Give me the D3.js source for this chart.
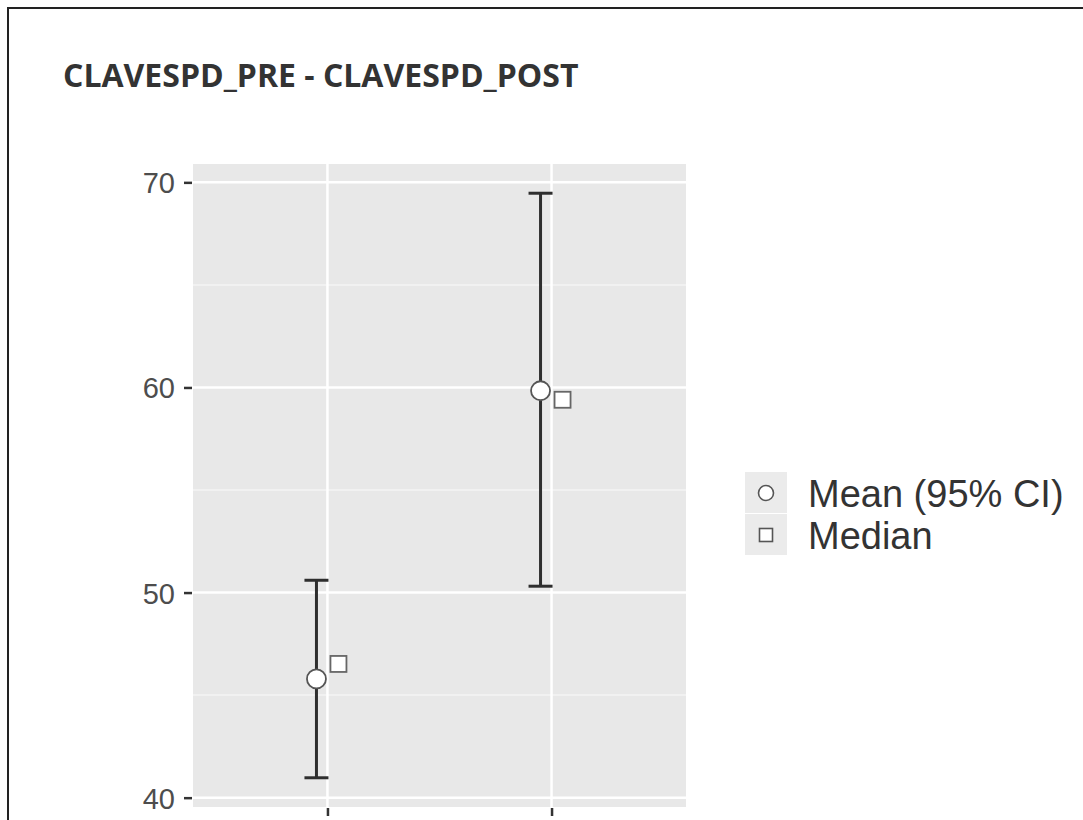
<!DOCTYPE html>
<html>
<head>
<meta charset="utf-8">
<script src="https://cdn.jsdelivr.net/npm/d3@7"></script>
<style>
  body { margin: 0; background: #fff; }
  svg { display: block; }
</style>
</head>
<body>
<div id="chart"></div>
<script>
// data
var categories = ["CLAVESPD_PRE", "CLAVESPD_POST"];
var meanValues = [45.79, 59.84];
var lowerCI = [40.97, 50.31];
var upperCI = [50.6, 69.47];
var medianValues = [46.52, 59.4];
var yTicks = [40, 50, 60, 70];
var legendLabels = ["Mean (95% CI)", "Median"];

var W = 1083, H = 820;
var panel = {left: 193, right: 686, top: 164, bottom: 807};
var dodge = 11;

var svg = d3.select("#chart").append("svg")
    .attr("width", W)
    .attr("height", H);

// outer frame (runs off the right and bottom edges)
svg.append("rect")
    .attr("x", 8).attr("y", 8)
    .attr("width", W + 20).attr("height", H + 20)
    .attr("fill", "#fff")
    .attr("stroke", "#222")
    .attr("stroke-width", 2);

svg.append("text")
    .attr("x", 63).attr("y", 87)
    .attr("font-family", "Open Sans, sans-serif")
    .attr("font-weight", 700)
    .attr("font-size", "32px")
    .attr("fill", "#333")
    .text("CLAVESPD_PRE - CLAVESPD_POST");

var x = d3.scalePoint()
    .domain(categories)
    .range([panel.left, panel.right])
    .padding(0.6);

var lo = d3.min(lowerCI), hi = d3.max(upperCI), ex = (hi - lo) * 0.05;
var y = d3.scaleLinear()
    .domain([lo - ex, hi + ex])
    .range([panel.bottom, panel.top]);

svg.append("rect")
    .attr("x", panel.left).attr("y", panel.top)
    .attr("width", panel.right - panel.left)
    .attr("height", panel.bottom - panel.top)
    .attr("fill", "#e8e8e8");

// minor grid
var minor = [45, 55, 65];
svg.selectAll(".minor").data(minor).enter().append("line")
    .attr("x1", panel.left).attr("x2", panel.right)
    .attr("y1", function(d) { return y(d); })
    .attr("y2", function(d) { return y(d); })
    .attr("stroke", "#f5f5f5").attr("stroke-width", 1.5);

// major grid
svg.selectAll(".hmajor").data(yTicks).enter().append("line")
    .attr("x1", panel.left).attr("x2", panel.right)
    .attr("y1", function(d) { return y(d); })
    .attr("y2", function(d) { return y(d); })
    .attr("stroke", "#fff").attr("stroke-width", 2.5);

svg.selectAll(".vmajor").data(categories).enter().append("line")
    .attr("y1", panel.top).attr("y2", panel.bottom)
    .attr("x1", function(d) { return x(d); })
    .attr("x2", function(d) { return x(d); })
    .attr("stroke", "#fff").attr("stroke-width", 2.5);

// axes
var yAxis = svg.append("g")
    .attr("transform", "translate(" + (panel.left - 1) + ",0)")
    .call(d3.axisLeft(y).tickValues(yTicks).tickSize(8).tickPadding(9));
yAxis.select(".domain").remove();
yAxis.selectAll("line").attr("stroke", "#333").attr("stroke-width", 2.5);
yAxis.selectAll("text")
    .attr("font-family", "Liberation Sans, Arial, sans-serif")
    .attr("font-size", "29px")
    .attr("fill", "#4d4d4d")
    .attr("dy", "0.36em");

// x ticks only; the category labels sit below the visible area
var xAxis = svg.append("g")
    .attr("transform", "translate(0," + (panel.bottom + 1) + ")")
    .call(d3.axisBottom(x).tickSize(8).tickFormat(""));
xAxis.select(".domain").remove();
xAxis.selectAll("line").attr("stroke", "#333").attr("stroke-width", 2.5);

// error bars
var idx = d3.range(categories.length);
var bars = svg.append("g");
bars.selectAll(".stem").data(idx).enter().append("line")
    .attr("x1", function(i) { return x(categories[i]) - dodge; })
    .attr("x2", function(i) { return x(categories[i]) - dodge; })
    .attr("y1", function(i) { return y(lowerCI[i]); })
    .attr("y2", function(i) { return y(upperCI[i]); })
    .attr("stroke", "#2e2e2e").attr("stroke-width", 3);
[lowerCI, upperCI].forEach(function(arr) {
  bars.selectAll(null).data(idx).enter().append("line")
      .attr("x1", function(i) { return x(categories[i]) - dodge - 12; })
      .attr("x2", function(i) { return x(categories[i]) - dodge + 12; })
      .attr("y1", function(i) { return y(arr[i]); })
      .attr("y2", function(i) { return y(arr[i]); })
      .attr("stroke", "#2e2e2e").attr("stroke-width", 3);
});

// means
svg.selectAll(".mean").data(idx).enter().append("circle")
    .attr("cx", function(i) { return x(categories[i]) - dodge; })
    .attr("cy", function(i) { return y(meanValues[i]); })
    .attr("r", 9.5)
    .attr("fill", "#fff")
    .attr("stroke", "#555")
    .attr("stroke-width", 1.8);

// medians
svg.selectAll(".median").data(idx).enter().append("rect")
    .attr("x", function(i) { return x(categories[i]) + dodge - 8; })
    .attr("y", function(i) { return y(medianValues[i]) - 8; })
    .attr("width", 16).attr("height", 16)
    .attr("fill", "#fff")
    .attr("stroke", "#666")
    .attr("stroke-width", 1.8);

// legend
var lg = svg.append("g").attr("transform", "translate(745,472)");
lg.selectAll(".key").data(legendLabels).enter().append("rect")
    .attr("x", 0).attr("y", function(d, i) { return i * 42; })
    .attr("width", 42).attr("height", 41)
    .attr("fill", "#ebebeb");
lg.append("circle")
    .attr("cx", 21).attr("cy", 21).attr("r", 7.5)
    .attr("fill", "#fff").attr("stroke", "#555").attr("stroke-width", 1.6);
lg.append("rect")
    .attr("x", 14.5).attr("y", 56.5).attr("width", 13).attr("height", 13)
    .attr("fill", "#fff").attr("stroke", "#555").attr("stroke-width", 1.6);
lg.selectAll(".lab").data(legendLabels).enter().append("text")
    .attr("x", 63)
    .attr("y", function(d, i) { return 21 + i * 42; })
    .attr("dy", "0.36em")
    .attr("font-family", "Liberation Sans, Arial, sans-serif")
    .attr("font-size", "38px")
    .attr("fill", "#333")
    .text(function(d) { return d; });
</script>
</body>
</html>
